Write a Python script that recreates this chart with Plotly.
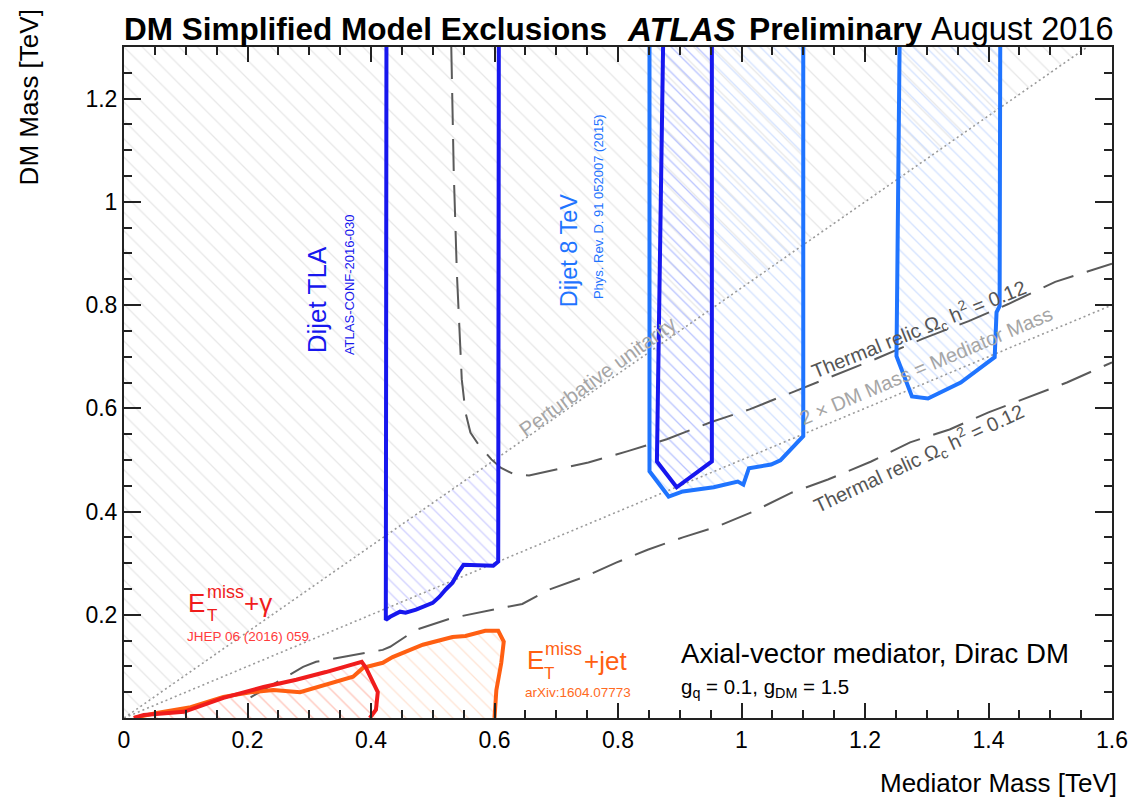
import plotly.graph_objects as go

FONT = "Liberation Sans, Arial, Helvetica, sans-serif"

# ---------------- data (TeV) ----------------
# Dijet TLA exclusion contours
tla1_x = [0.425, 0.424, 0.431, 0.447, 0.456, 0.473, 0.500, 0.511, 0.521, 0.532, 0.542, 0.550, 0.598, 0.606, 0.607]
tla1_y = [1.30, 0.190, 0.196, 0.206, 0.204, 0.210, 0.223, 0.235, 0.249, 0.262, 0.283, 0.297, 0.295, 0.303, 1.30]
tla2_x = [0.873, 0.863, 0.895, 0.952, 0.952]
tla2_y = [1.30, 0.497, 0.447, 0.497, 1.30]
# Dijet 8 TeV exclusion contours
d8a_x = [0.851, 0.851, 0.882, 0.905, 0.955, 0.994, 1.003, 1.012, 1.048, 1.063, 1.100, 1.100]
d8a_y = [1.30, 0.478, 0.429, 0.439, 0.447, 0.458, 0.452, 0.484, 0.491, 0.499, 0.546, 1.30]
d8b_x = [1.256, 1.253, 1.251, 1.276, 1.302, 1.355, 1.410, 1.413, 1.418, 1.419]
d8b_y = [1.30, 1.00, 0.701, 0.623, 0.619, 0.650, 0.699, 0.786, 0.798, 1.30]
# MET + gamma
gam_x = [0.016, 0.032, 0.097, 0.161, 0.226, 0.279, 0.327, 0.376, 0.385, 0.392, 0.411, 0.408, 0.398]
gam_y = [0.0, 0.006, 0.012, 0.039, 0.060, 0.074, 0.089, 0.105, 0.109, 0.097, 0.050, 0.016, 0.0]
# MET + jet
jet_x = [0.016, 0.053, 0.108, 0.161, 0.205, 0.242, 0.285, 0.334, 0.371, 0.387, 0.419, 0.435, 0.484,
         0.532, 0.553, 0.585, 0.606, 0.615, 0.611, 0.603, 0.600]
jet_y = [0.0, 0.010, 0.021, 0.041, 0.050, 0.054, 0.050, 0.068, 0.080, 0.097, 0.107, 0.118, 0.142,
         0.157, 0.159, 0.169, 0.169, 0.148, 0.107, 0.054, 0.0]
# Thermal relic curves
th1_x = [0.530, 0.534, 0.539, 0.547, 0.553, 0.561, 0.574, 0.595, 0.610, 0.632, 0.656, 0.702, 0.752,
         0.816, 0.879, 0.950, 1.013, 1.082, 1.147, 1.216, 1.292, 1.368, 1.432, 1.508, 1.600]
th1_y = [1.30, 1.058, 0.864, 0.656, 0.592, 0.553, 0.530, 0.501, 0.485, 0.472, 0.470, 0.482, 0.495,
         0.517, 0.540, 0.573, 0.598, 0.631, 0.662, 0.695, 0.734, 0.769, 0.802, 0.845, 0.880]
th2_x = [0.205, 0.253, 0.290, 0.311, 0.376, 0.419, 0.431, 0.473, 0.532, 0.606, 0.645, 0.689, 0.747,
         0.797, 0.848, 0.905, 0.961, 1.019, 1.082, 1.140, 1.210, 1.273, 1.337, 1.400, 1.463, 1.527, 1.600]
th2_y = [0.040, 0.074, 0.099, 0.109, 0.122, 0.132, 0.138, 0.171, 0.194, 0.212, 0.221, 0.249, 0.274,
         0.301, 0.326, 0.350, 0.371, 0.400, 0.437, 0.462, 0.497, 0.534, 0.559, 0.592, 0.621, 0.650, 0.689]
# Perturbative unitarity and 2 x DM mass = mediator mass
unit_x = [0.0, 1.56]
unit_y = [0.0, 1.30]
diag_x = [0.0, 1.60]
diag_y = [0.0, 0.80]

x_ticks = [0, 0.2, 0.4, 0.6, 0.8, 1.0, 1.2, 1.4, 1.6]
x_labels = ["0", "0.2", "0.4", "0.6", "0.8", "1", "1.2", "1.4", "1.6"]
y_ticks = [0.2, 0.4, 0.6, 0.8, 1.0, 1.2]
y_labels = ["0.2", "0.4", "0.6", "0.8", "1", "1.2"]

X_MAX, Y_MAX = 1.6, 1.3

C_TLA = "#1717ee"
C_D8 = "#1f74ff"
C_GAM = "#f01c1c"
C_JET = "#ff5f12"
C_DASH = "#5a5a5a"
C_DOT = "#9a9a9a"

fig = go.Figure()


def hatch_fill(xs, ys, fg, size=10, sol=0.14, bg="rgba(0,0,0,0)"):
    fig.add_trace(go.Scatter(
        x=xs, y=ys, mode="lines", fill="toself", line=dict(width=0, color="rgba(0,0,0,0)"),
        fillcolor="rgba(0,0,0,0)",
        fillpattern=dict(shape="\\", size=size, solidity=sol, fgcolor=fg, bgcolor=bg),
        hoverinfo="skip", showlegend=False))


def line(xs, ys, color, width=4, dash="solid"):
    fig.add_trace(go.Scatter(x=xs, y=ys, mode="lines",
                             line=dict(color=color, width=width, dash=dash),
                             hoverinfo="skip", showlegend=False))


# hatched excluded regions
hatch_fill(tla1_x, tla1_y, "#a3a3ff", size=9, sol=0.15)
hatch_fill(unit_x + [0.0], unit_y + [Y_MAX], "#d0d0d0", size=13, sol=0.1, bg="white")
hatch_fill(d8a_x, d8a_y, "#a8c6ff", size=9, sol=0.15)
hatch_fill(d8b_x, d8b_y, "#a8c6ff", size=9, sol=0.15)
hatch_fill(tla2_x, tla2_y, "#a3a3ff", size=9, sol=0.12)
hatch_fill(jet_x, jet_y, "#ffc8a8", size=11, sol=0.12)
hatch_fill(gam_x, gam_y, "#ffb0b0", size=11, sol=0.12)

# reference lines
line(unit_x, unit_y, C_DOT, width=1.6, dash="2px,3px")
line(diag_x, diag_y, C_DOT, width=1.6, dash="2px,3px")
line(th1_x, th1_y, C_DASH, width=2, dash="32px,14px")
line(th2_x, th2_y, C_DASH, width=2, dash="32px,14px")

# contours
line(jet_x, jet_y, C_JET, width=4)
line(gam_x, gam_y, C_GAM, width=4)
line(d8a_x, d8a_y, C_D8, width=4)
line(d8b_x, d8b_y, C_D8, width=4)
line(tla1_x, tla1_y, C_TLA, width=4)
line(tla2_x, tla2_y, C_TLA, width=4)

# ---------------- layout ----------------
# the page adds an 8 px body margin; plot-area edges below are page pixels
OFF = 8
W, H = 1140 - OFF, 799 - OFF
L, R, T, B = 124, 1116, 47, 718


def px(x):
    return (x - L) / (R - L)


def py(y):
    return (B - y) / (B - T)


ann = []


def text(t, x, y, size, color="black", angle=0, xanchor="center", yanchor="middle"):
    ann.append(dict(text=t, x=px(x), y=py(y), xref="paper", yref="paper", showarrow=False,
                    font=dict(family=FONT, size=size, color=color), textangle=angle,
                    xanchor=xanchor, yanchor=yanchor, borderpad=0))


# title
text("<b>DM Simplified Model Exclusions</b>", 123, 29, 31.5, xanchor="left")
text("<b><i>ATLAS</i></b>", 628, 29, 33, xanchor="left")
text("<b>Preliminary</b>", 751, 29, 31.8, xanchor="left")
text("August 2016", 933, 29, 32.5, xanchor="left")

# axis titles
text("Mediator Mass [TeV]", 1122, 783, 26, xanchor="right")
text("DM Mass [TeV]", 29, 97, 26, angle=-90)

# contour labels
text("Dijet TLA", 318, 300, 26, C_TLA, angle=-90)
text("ATLAS-CONF-2016-030", 350, 285, 13, C_TLA, angle=-90)
text("Dijet 8 TeV", 571, 250, 23.5, C_D8, angle=-90)
text("Phys. Rev. D. 91 052007 (2015)", 601, 207, 13, C_D8, angle=-90)

text("Perturbative unitarity", 599, 376, 20.5, "#a5a5a5", angle=-36)
text("Thermal relic Ω<sub>c</sub> h<sup>2</sup> = 0.12", 922, 329, 20, "#555555", angle=-22)
text("2 × DM Mass = Mediator Mass", 929, 366, 20, "#a5a5a5", angle=-23)
text("Thermal relic Ω<sub>c</sub> h<sup>2</sup> = 0.12", 922, 458, 20, "#555555", angle=-25)

# E_T^miss + gamma
text("E", 197, 603, 26, C_GAM)
text("miss", 226, 592, 18, C_GAM)
text("T", 212, 615, 17, C_GAM)
text("+γ", 259, 603, 26, C_GAM)
text("JHEP 06 (2016) 059", 248, 636, 13.5, "#ff3b3b")

# E_T^miss + jet
text("E", 537, 660, 26, C_JET)
text("miss", 565, 649, 18, C_JET)
text("T", 551, 673, 17, C_JET)
text("+jet", 607, 661, 26, C_JET)
text("arXiv:1604.07773", 580, 692, 13.5, "#ff6a22")

# model info
text("Axial-vector mediator, Dirac DM", 682, 653, 27.6, "black", xanchor="left")
text("g<sub>q</sub> = 0.1, g<sub>DM</sub> = 1.5", 682, 688, 20.5, "black", xanchor="left")

x_minor = [round(0.05 * i, 2) for i in range(1, 32) if i % 4 != 0]
y_minor = [round(0.05 * i, 2) for i in range(1, 26) if i % 4 != 0]

axis_common = dict(
    showgrid=False, zeroline=False, showline=True, linecolor="#222", linewidth=2,
    mirror="allticks", ticks="inside", tickcolor="#222", tickwidth=1.5,
    tickfont=dict(family=FONT, size=23, color="black"), tickmode="array",
)

fig.update_layout(
    width=W, height=H,
    margin=dict(l=L - OFF, r=W - (R - OFF), t=T - OFF, b=H - (B - OFF), pad=0),
    paper_bgcolor="white", plot_bgcolor="white",
    showlegend=False,
    xaxis=dict(range=[0, X_MAX], tickvals=x_ticks, ticktext=x_labels, ticklen=15,
               minor=dict(tickmode="array", tickvals=x_minor, ticks="inside", ticklen=8,
                          tickcolor="#222", tickwidth=1.5),
               **axis_common),
    yaxis=dict(range=[0, Y_MAX], tickvals=y_ticks, ticktext=y_labels, ticklen=17,
               minor=dict(tickmode="array", tickvals=y_minor, ticks="inside", ticklen=8,
                          tickcolor="#222", tickwidth=1.5),
               **axis_common),
    annotations=ann,
)

fig.write_html("out.html")
